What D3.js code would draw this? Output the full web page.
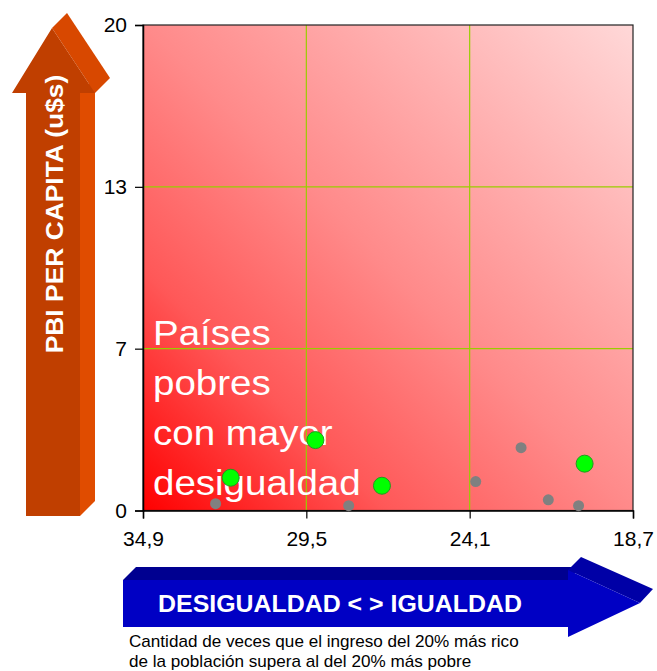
<!DOCTYPE html>
<html>
<head>
<meta charset="utf-8">
<script src="https://cdn.jsdelivr.net/npm/d3@7"></script>
<style>
  body { margin: 0; background: #fff; }
  svg { display: block; font-family: "Liberation Sans", Arial, sans-serif; }
</style>
</head>
<body>
<svg id="chart"></svg>
<script>
// valores
const verdesX = [32.0, 29.2, 27.0, 20.3];
const verdesY = [1.35, 2.9, 1.02, 1.93];
const grisesX = [32.5, 28.1, 23.9, 22.4, 21.5, 20.5];
const grisesY = [0.28, 0.2, 1.19, 2.59, 0.44, 0.2];

const xTicks = [34.9, 29.5, 24.1, 18.7];
const yTicks = [0, 20 / 3, 40 / 3, 20];
const yTickLabels = ["0", "7", "13", "20"];

const margin = { top: 25, right: 24, bottom: 160.5, left: 143 },
    W = 657, H = 671,
    width = W - margin.left - margin.right,
    height = H - margin.top - margin.bottom;

const svg = d3.select("#chart")
    .attr("width", W)
    .attr("height", H);

const defs = svg.append("defs");
const grad = defs.append("linearGradient")
    .attr("id", "fondo")
    .attr("x1", 0).attr("y1", 1)
    .attr("x2", 1).attr("y2", 0);
grad.append("stop").attr("offset", 0).attr("stop-color", "#ff0000");
grad.append("stop").attr("offset", 0.25).attr("stop-color", "#ff5858");
grad.append("stop").attr("offset", 0.5).attr("stop-color", "#ff8a8a");
grad.append("stop").attr("offset", 1).attr("stop-color", "#ffd8d8");

// flecha naranja (eje y)
const orange = svg.append("g");
orange.append("polygon")
    .attr("points", "80,93 95,78 95,501 80,516")
    .attr("fill", "#e04c00");
orange.append("polygon")
    .attr("points", "52,28 67,13 110,78 95,93")
    .attr("fill", "#d84800");
orange.append("polygon")
    .attr("points", "26,93 12,93 52,28 95,93 80,93 80,516 26,516")
    .attr("fill", "#c03f00");
orange.append("text")
    .attr("transform", "translate(63,214) rotate(-90) scale(1.1,1)")
    .attr("text-anchor", "middle")
    .attr("fill", "#fff")
    .attr("font-weight", "bold")
    .attr("font-size", 24)
    .text("PBI PER CAPITA (u$s)");

// flecha azul (eje x)
const blue = svg.append("g");
blue.append("polygon")
    .attr("points", "123,580 136,567 581,567 568,580")
    .attr("fill", "#000090");
blue.append("polygon")
    .attr("points", "568,570 581,557 653,589 640,603")
    .attr("fill", "#0000a6");
blue.append("polygon")
    .attr("points", "123,580 568,580 568,570 640,603 568,637 568,627 123,627")
    .attr("fill", "#0000c4");
blue.append("text")
    .attr("transform", "translate(340,612) scale(1.06,1)")
    .attr("text-anchor", "middle")
    .attr("fill", "#fff")
    .attr("font-weight", "bold")
    .attr("font-size", 23.5)
    .text("DESIGUALDAD < > IGUALDAD");

svg.append("text")
    .attr("transform", "translate(129,647) scale(1.07,1)")
    .attr("font-size", 16)
    .text("Cantidad de veces que el ingreso del 20% más rico");
svg.append("text")
    .attr("transform", "translate(129,667) scale(1.07,1)")
    .attr("font-size", 16)
    .text("de la población supera al del 20% más pobre");

const g = svg.append("g")
    .attr("transform", `translate(${margin.left}, ${margin.top})`);

const x = d3.scaleLinear()
    .domain([34.9, 18.7])
    .range([0, width]);
const y = d3.scaleLinear()
    .domain([0, 20])
    .range([height, 0]);

g.append("rect")
    .attr("width", width)
    .attr("height", height)
    .attr("fill", "url(#fondo)");

// grilla
g.selectAll(".vgrid")
    .data(xTicks.slice(1, -1))
    .enter()
    .append("line")
    .attr("x1", d => x(d)).attr("x2", d => x(d))
    .attr("y1", 0).attr("y2", height)
    .attr("stroke", "#9acd00")
    .attr("stroke-width", 1.2);
g.selectAll(".hgrid")
    .data(yTicks.slice(1, -1))
    .enter()
    .append("line")
    .attr("x1", 0).attr("x2", width)
    .attr("y1", d => y(d)).attr("y2", d => y(d))
    .attr("stroke", "#9acd00")
    .attr("stroke-width", 1.2);

g.append("rect")
    .attr("width", width)
    .attr("height", height)
    .attr("fill", "none")
    .attr("stroke", "#222")
    .attr("stroke-width", 1.2);

// ejes
const xAxis = g.append("g")
    .attr("transform", `translate(0, ${height})`)
    .call(d3.axisBottom(x)
        .tickValues(xTicks)
        .tickSize(8)
        .tickFormat(d => d3.format(".1f")(d).replace(".", ",")));
const yAxis = g.append("g")
    .call(d3.axisLeft(y)
        .tickValues(yTicks)
        .tickSize(8)
        .tickFormat((d, i) => yTickLabels[i]));

[xAxis, yAxis].forEach(a => {
    a.select(".domain").attr("stroke", "#000").attr("stroke-width", 1.5);
    a.selectAll(".tick line").attr("stroke", "#000").attr("stroke-width", 1.2);
    a.selectAll("text")
        .attr("fill", "#000")
        .style("font-size", "21px")
        .style("font-family", "'Liberation Sans', Arial, sans-serif");
});
xAxis.selectAll("text").attr("dy", "0.71em").attr("y", 21);
yAxis.selectAll("text").attr("x", -16);

// texto dentro del area
const etiqueta = ["Países", "pobres", "con mayor", "desigualdad"];
g.append("g")
    .selectAll("text")
    .data(etiqueta)
    .enter()
    .append("text")
    .attr("transform", (d, i) => `translate(10, ${320 + i * 50}) scale(1.1, 1)`)
    .attr("fill", "#fff")
    .attr("font-size", 35)
    .text(d => d);

// puntos
g.selectAll(".gris")
    .data(grisesX)
    .enter()
    .append("circle")
    .attr("cx", d => x(d))
    .attr("cy", (d, i) => y(grisesY[i]))
    .attr("r", 5.5)
    .attr("fill", "#808080");

g.selectAll(".verde")
    .data(verdesX)
    .enter()
    .append("circle")
    .attr("cx", d => x(d))
    .attr("cy", (d, i) => y(verdesY[i]))
    .attr("r", 8.5)
    .attr("fill", "#00ff00")
    .attr("stroke", "#1f9a1f")
    .attr("stroke-width", 1);
</script>
</body>
</html>
